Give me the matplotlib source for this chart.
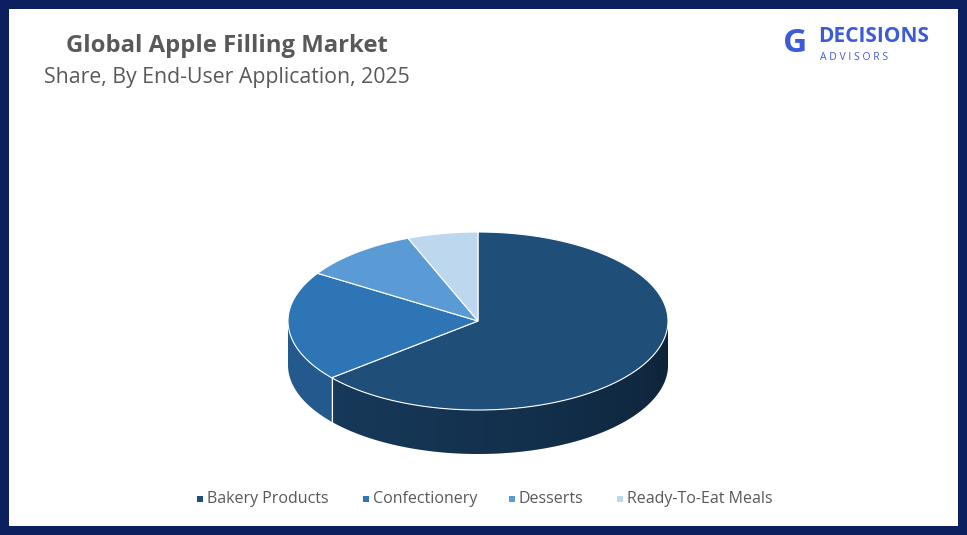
import numpy as np
import matplotlib
matplotlib.use("Agg")
import matplotlib.pyplot as plt
from matplotlib.patches import Polygon, Rectangle

categories = ["Bakery Products", "Confectionery", "Desserts", "Ready-To-Eat Meals"]
shares = [64, 20, 10, 6]
colors = ["#1F4E79", "#2E75B6", "#5B9BD5", "#BDD7EE"]
side_colors = ["#17395a", "#23598c", "#4a82b8", "#9dbad6"]

plt.rcParams['font.family'] = ['Open Sans', 'DejaVu Sans']
fig = plt.figure(figsize=(9.67, 5.35), dpi=100)
fig.patch.set_facecolor("#0c1f5e")
ax = fig.add_axes([0, 0, 1, 1])
ax.set_xlim(0, 967); ax.set_ylim(535, 0); ax.axis("off")
ax.add_patch(Rectangle((9, 9), 949, 517, facecolor="white", edgecolor="none"))

cx, cy, rx, ry, depth = 478, 321, 190, 89, 44
def pt(a, d=0):
    return cx + rx*np.cos(np.radians(a)), cy - ry*np.sin(np.radians(a)) + d

total = sum(shares)
start = 90.0
wedges = []
for s in shares:
    span = 360*s/total
    wedges.append((start - span, start))
    start -= span

for (a0, a1), sc in zip(wedges, side_colors):
    lo, hi = max(a0, -180), min(a1, 0)
    if hi > lo:
        aa = np.linspace(lo, hi, 100)
        top = [pt(a) for a in aa]
        bot = [pt(a, depth) for a in aa[::-1]]
        ax.add_patch(Polygon(top + bot, closed=True, facecolor=sc, edgecolor="none"))
lo = wedges[0][0]
aa = np.linspace(max(lo, -180), 0, 120)
n = len(aa)
for i in range(n-1):
    t = i/(n-1)
    seg = [pt(aa[i]), pt(aa[i+1]), pt(aa[i+1], depth), pt(aa[i], depth)]
    ax.add_patch(Polygon(seg, closed=True, facecolor="#050d18", alpha=0.55*t**1.2, edgecolor="none", lw=0))
for (a0, a1) in wedges:
    if -180 < a0 < 0:
        x, y = pt(a0)
        ax.plot([x, x], [y, y+depth], color="white", lw=0.8)

for (a0, a1), c in zip(wedges, colors):
    aa = np.linspace(a0, a1, 150)
    poly = [(cx, cy)] + [pt(a) for a in aa]
    ax.add_patch(Polygon(poly, closed=True, facecolor=c, edgecolor="white", lw=0.8))

ax.text(227, 46, "Global Apple Filling Market", ha="center", va="center", fontsize=17.2, fontweight="bold", color="#595959")
ax.text(227, 78, "Share, By End-User Application, 2025", ha="center", va="center", fontsize=15.3, color="#595959")

ax.text(818, 37, "DECISIONS", ha="left", va="center", fontsize=15, fontweight="bold", color="#3d5bd9")
ax.text(820, 58, "A D V I S O R S", ha="left", va="center", fontsize=7.5, color="#3d5bd9")
ax.text(795, 43, "G", ha="center", va="center", fontsize=24, fontweight="bold", color="#3d5bd9")

xs = [197, 363, 509, 617]
for x, lab, c in zip(xs, categories, colors):
    ax.add_patch(Rectangle((x, 496), 6, 6, facecolor=c, edgecolor="none"))
    ax.text(x + 10, 499, lab, ha="left", va="center", fontsize=11.5, color="#595959")

fig.savefig("out.png", dpi=100, facecolor=fig.get_facecolor())
